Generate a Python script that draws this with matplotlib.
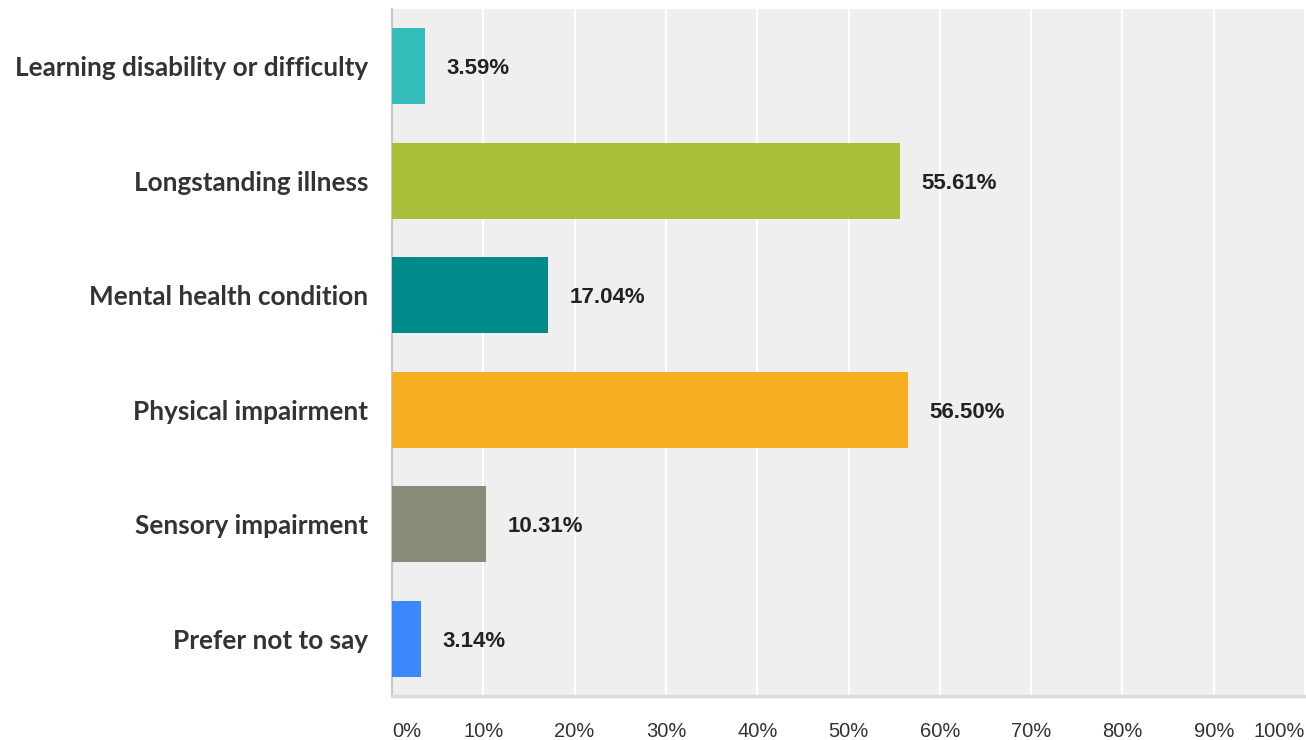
import matplotlib.pyplot as plt

categories = [
    "Learning disability or difficulty",
    "Longstanding illness",
    "Mental health condition",
    "Physical impairment",
    "Sensory impairment",
    "Prefer not to say",
]
values = [3.59, 55.61, 17.04, 56.50, 10.31, 3.14]
colors = ["#35BDBB", "#A9BF39", "#008A8A", "#F5AE1F", "#8A8B79", "#3B88FD"]
xticks = list(range(0, 101, 10))
xtick_labels = [f"{t}%" for t in xticks]

fig = plt.figure(figsize=(13.06, 7.4), dpi=100)
ax = fig.add_axes([392 / 1306, 44 / 740, 913 / 1306, 687 / 740])
ax.set_facecolor("#EFEFEF")

ypos = list(range(len(categories)))
ax.barh(ypos, values, height=0.66, color=colors, zorder=3)

for y, v in zip(ypos, values):
    ax.text(v + 2.4, y + 0.02, f"{v:.2f}%", va="center", ha="left",
            fontsize=16, fontweight="bold", family="Liberation Sans",
            color="#222222", zorder=4)

ax.set_xlim(0, 100)
ax.set_ylim(len(categories) - 0.5, -0.5)
ax.grid(axis="x", color="white", linewidth=1.5, zorder=1)

ax.set_yticks(ypos)
ax.set_yticklabels(categories, family="Lato", fontweight="bold",
                   fontsize=18.8, color="#333333")
ax.tick_params(axis="y", length=0, pad=17)

ax.set_xticks(xticks)
ax.set_xticklabels(xtick_labels, family="Liberation Sans")
ax.tick_params(axis="x", length=0, pad=19, labelsize=14.5,
               labelcolor="#333333")
xl = ax.get_xticklabels()
xl[0].set_ha("left")
xl[-1].set_ha("right")

for side in ["top", "right"]:
    ax.spines[side].set_visible(False)
ax.spines["left"].set_color("#C8C8C8")
ax.spines["left"].set_linewidth(1.5)
ax.spines["bottom"].set_color("#DCDCDC")
ax.spines["bottom"].set_linewidth(2.5)

fig.savefig("out.png", dpi=100)
